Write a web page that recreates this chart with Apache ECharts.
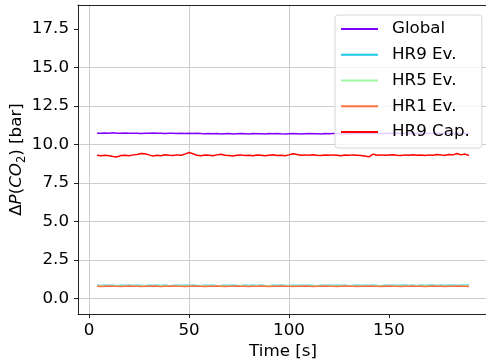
<!DOCTYPE html>
<html>
<head>
<meta charset="utf-8">
<script src="https://cdn.jsdelivr.net/npm/echarts@6/dist/echarts.min.js"></script>
<style>
  html, body { margin: 0; padding: 0; background: #fff; }
  #chart { width: 486px; height: 359px; }
</style>
</head>
<body>
<div id="chart"></div>
<script>
// time stamps [s]
const time = [4, 6, 8, 10, 12, 14, 16, 18, 20, 22, 24, 26, 28, 30, 32, 34, 36, 38, 40, 42, 44, 46, 48, 50, 52, 54,
  56, 58, 60, 62, 64, 66, 68, 70, 72, 74, 76, 78, 80, 82, 84, 86, 88, 90, 92, 94, 96, 98, 100, 102, 104, 106, 108,
  110, 112, 114, 116, 118, 120, 122, 124, 126, 128, 130, 132, 134, 136, 138, 140, 142, 144, 146, 148, 150,
  152, 154, 156, 158, 160, 162, 164, 166, 168, 170, 172, 174, 176, 178, 180, 182, 184, 186, 188, 190];

const globalVals = [10.74, 10.73, 10.75, 10.74, 10.76, 10.74, 10.73, 10.75, 10.74, 10.73, 10.74, 10.72, 10.74, 10.73, 10.75, 10.73, 10.74, 10.72, 10.73, 10.74, 10.72, 10.73, 10.71, 10.73, 10.72, 10.73,
  10.71, 10.70, 10.72, 10.70, 10.71, 10.69, 10.70, 10.71, 10.69, 10.70, 10.71, 10.70, 10.69, 10.71, 10.70, 10.70, 10.69, 10.71, 10.70, 10.72, 10.70, 10.69, 10.70, 10.71, 10.70, 10.69, 10.70, 10.71, 10.70, 10.70, 10.69, 10.71, 10.70, 10.71, 10.72, 10.70, 10.71, 10.70, 10.72, 10.71, 10.70, 10.72, 10.71, 10.73, 10.72, 10.71, 10.73, 10.72,
  10.72, 10.73, 10.71, 10.72, 10.73, 10.72, 10.74, 10.72, 10.73, 10.71, 10.72, 10.73, 10.72, 10.71, 10.73, 10.72, 10.73, 10.71, 10.72, 10.73];

const hr9Ev = [0.86, 0.85, 0.87, 0.85, 0.86, 0.84, 0.86, 0.85, 0.87, 0.85, 0.86, 0.85, 0.84, 0.86, 0.85, 0.87, 0.85, 0.86, 0.84, 0.85, 0.86, 0.85, 0.87, 0.85, 0.86, 0.85,
  0.84, 0.86, 0.85, 0.86, 0.84, 0.85, 0.87, 0.85, 0.86, 0.85, 0.84, 0.86, 0.85, 0.86, 0.85, 0.87, 0.85, 0.84, 0.86, 0.85, 0.86, 0.85, 0.84, 0.86, 0.85, 0.87, 0.85, 0.86, 0.85, 0.84, 0.86, 0.85, 0.86, 0.85, 0.87, 0.85, 0.86, 0.84, 0.85, 0.86, 0.85, 0.87, 0.85, 0.86, 0.85, 0.84, 0.86, 0.85,
  0.86, 0.85, 0.87, 0.86, 0.85, 0.86, 0.84, 0.86, 0.85, 0.87, 0.86, 0.85, 0.86, 0.85, 0.87, 0.86, 0.85, 0.86, 0.87, 0.86];

const hr5Ev = [0.82, 0.83, 0.82, 0.81, 0.82, 0.83, 0.82, 0.82, 0.81, 0.83,
  0.82, 0.82, 0.83, 0.81, 0.82, 0.82, 0.83, 0.82, 0.81, 0.82,
  0.83, 0.82, 0.82, 0.81, 0.83, 0.82, 0.82, 0.83, 0.82, 0.81,
  0.82, 0.83, 0.82, 0.82, 0.81, 0.82, 0.83, 0.82, 0.82, 0.81,
  0.83, 0.82, 0.82, 0.83, 0.81, 0.82, 0.82, 0.83, 0.82, 0.81,
  0.82, 0.83, 0.82, 0.82, 0.81, 0.83, 0.82, 0.82, 0.83, 0.82,
  0.81, 0.82, 0.83, 0.82, 0.82, 0.81, 0.82, 0.83, 0.82, 0.82,
  0.83, 0.81, 0.82, 0.82, 0.83, 0.82, 0.81, 0.82, 0.83, 0.82,
  0.82, 0.81, 0.83, 0.82, 0.82, 0.83, 0.82, 0.81, 0.82, 0.83,
  0.82, 0.82, 0.83, 0.82];

const hr1Ev = [0.80, 0.79, 0.80, 0.81, 0.80, 0.80, 0.79, 0.80, 0.81, 0.80,
  0.80, 0.79, 0.80, 0.80, 0.81, 0.80, 0.79, 0.80, 0.80, 0.81,
  0.80, 0.80, 0.79, 0.80, 0.81, 0.80, 0.80, 0.79, 0.80, 0.80,
  0.81, 0.80, 0.79, 0.80, 0.80, 0.81, 0.80, 0.80, 0.79, 0.80,
  0.80, 0.81, 0.80, 0.79, 0.80, 0.80, 0.81, 0.80, 0.80, 0.79,
  0.80, 0.80, 0.81, 0.80, 0.79, 0.80, 0.80, 0.81, 0.80, 0.80,
  0.79, 0.80, 0.81, 0.80, 0.80, 0.79, 0.80, 0.80, 0.81, 0.80,
  0.80, 0.79, 0.80, 0.81, 0.80, 0.80, 0.79, 0.80, 0.80, 0.81,
  0.80, 0.80, 0.79, 0.80, 0.81, 0.80, 0.80, 0.79, 0.80, 0.80,
  0.81, 0.80, 0.80, 0.79];

const hr9Cap = [9.30, 9.28, 9.31, 9.27, 9.22, 9.20, 9.29, 9.31, 9.28, 9.33, 9.36, 9.42, 9.40, 9.33, 9.25, 9.30, 9.28, 9.34, 9.31, 9.29, 9.33, 9.30, 9.38, 9.48, 9.40, 9.30,
  9.28, 9.32, 9.30, 9.27, 9.33, 9.37, 9.31, 9.29, 9.26, 9.31, 9.33, 9.29, 9.31, 9.28, 9.32, 9.30, 9.27, 9.31, 9.34, 9.29, 9.31, 9.28, 9.33, 9.40, 9.36, 9.31, 9.33, 9.30, 9.34, 9.31, 9.29, 9.32, 9.30, 9.33, 9.31, 9.28, 9.32, 9.30, 9.33, 9.31, 9.29, 9.26, 9.20, 9.38, 9.31, 9.33, 9.30, 9.32,
  9.34, 9.31, 9.29, 9.33, 9.31, 9.34, 9.30, 9.32, 9.29, 9.33, 9.31, 9.35, 9.32, 9.30, 9.36, 9.33, 9.42, 9.33, 9.38, 9.29];

const seriesNames = ['Global', 'HR9 Ev.', 'HR5 Ev.', 'HR1 Ev.', 'HR9 Cap.'];
const seriesValues = [globalVals, hr9Ev, hr5Ev, hr1Ev, hr9Cap];
const colors = ['#8000ff', '#1cc6e6', '#a2f5a2', '#ff7040', '#ff0000'];

const xTicks = [0, 50, 100, 150];
const yTicks = [0, 2.5, 5, 7.5, 10, 12.5, 15, 17.5];

const FONT = 'DejaVu Sans';
const FS = 16.7;

const chart = echarts.init(document.getElementById('chart'), null, { renderer: 'canvas' });

const series = seriesNames.map((name, k) => ({
  name: name,
  type: 'line',
  data: time.map((t, i) => [t, seriesValues[k][i]]),
  showSymbol: false,
  symbol: 'none',
  lineStyle: { width: 1.5, color: colors[k] },
  itemStyle: { color: colors[k] },
  animation: false,
  z: 2 + k
}));

const option = {
  animation: false,
  backgroundColor: '#fff',
  textStyle: { fontFamily: FONT },
  // plot area runs past the right edge of the picture
  grid: { left: 78, top: 5, right: -2, bottom: 45, containLabel: false, outerBoundsMode: 'none' },
  legend: {
    orient: 'vertical',
    left: 335,
    top: 15,
    icon: 'rect',
    itemWidth: 37,
    itemHeight: 2,
    itemGap: 5.75,
    padding: [4, 12, 6, 6],
    backgroundColor: 'rgba(255,255,255,0.8)',
    borderColor: '#d6d6d6',
    borderWidth: 1,
    borderRadius: 3,
    textStyle: { fontFamily: FONT, fontSize: FS, color: '#000', lineHeight: 20, padding: [0, 0, 0, 9] },
    data: seriesNames,
    z: 10
  },
  xAxis: [{
    type: 'value',
    min: -5.5,
    max: 199.5,
    name: 'Time [s]',
    nameLocation: 'middle',
    nameGap: 29,
    nameMoveOverlap: false,
    nameTextStyle: { fontFamily: FONT, fontSize: FS, color: '#000' },
    axisLine: { show: true, onZero: false, lineStyle: { color: '#222', width: 1 } },
    axisTick: { show: true, length: 4, customValues: xTicks, lineStyle: { color: '#222' } },
    axisLabel: { customValues: xTicks, margin: 8, fontFamily: FONT, fontSize: FS, color: '#000' },
    splitLine: { show: true, showMinLine: true, showMaxLine: false, lineStyle: { color: '#cccccc', width: 1 } }
  }, {
    type: 'value',
    position: 'top',
    min: -5.5,
    max: 199.5,
    axisLine: { show: true, onZero: false, lineStyle: { color: '#222', width: 1 } },
    axisTick: { show: false },
    axisLabel: { show: false },
    splitLine: { show: false }
  }],
  yAxis: {
    type: 'value',
    min: -1.0,
    max: 19.06,
    name: '{n|Δ}{i|P}{n|(}{i|CO}{s|2}{n|) [bar]}',
    nameLocation: 'middle',
    nameGap: 50,
    nameMoveOverlap: false,
    nameRotate: 90,
    nameTextStyle: {
      fontFamily: FONT, fontSize: FS, color: '#000',
      rich: {
        n: { fontFamily: FONT, fontSize: FS, color: '#000', lineHeight: 22 },
        i: { fontFamily: FONT, fontSize: FS, fontStyle: 'italic', color: '#000', lineHeight: 22 },
        s: { fontFamily: FONT, fontSize: 11.5, color: '#000', lineHeight: 14, verticalAlign: 'bottom' }
      }
    },
    axisLine: { show: true, onZero: false, lineStyle: { color: '#222', width: 1 } },
    axisTick: { show: true, length: 4, customValues: yTicks, lineStyle: { color: '#222' } },
    axisLabel: {
      customValues: yTicks, margin: 9, fontFamily: FONT, fontSize: FS, color: '#000',
      formatter: v => v.toFixed(1)
    },
    splitLine: { show: true, showMinLine: true, showMaxLine: false, lineStyle: { color: '#cccccc', width: 1 } }
  },
  series: series
};

chart.setOption(option);
</script>
</body>
</html>
